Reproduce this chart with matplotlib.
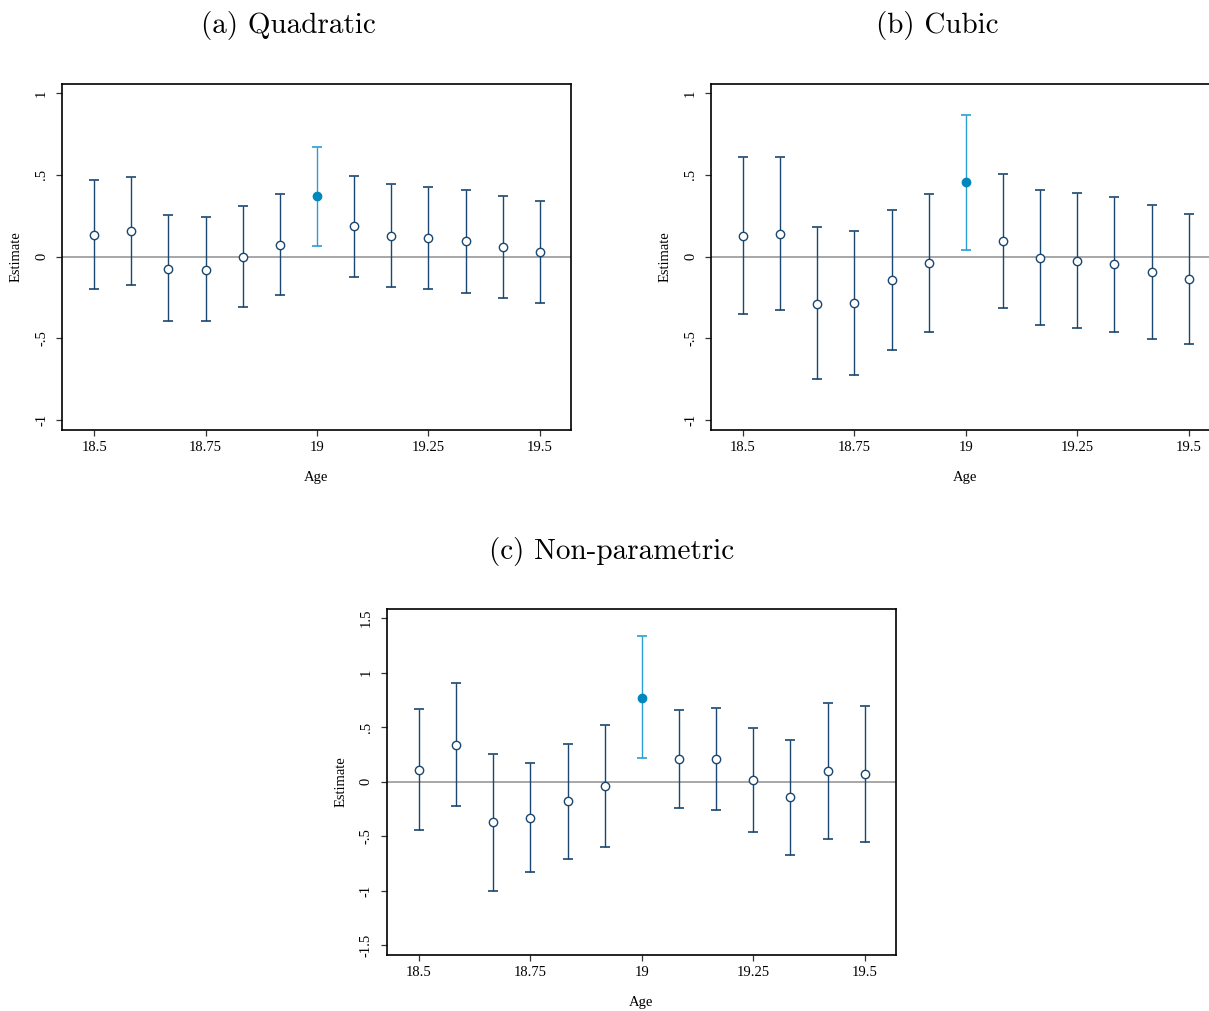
import matplotlib
matplotlib.use("Agg")
import matplotlib.pyplot as plt
import numpy as np

# age bins, 18.5 to 19.5 in monthly steps
ages = [18.5 + k / 12 for k in range(13)]
cutoff_age = 19.0

quad_est = [0.132, 0.157, -0.073, -0.079, 0.000, 0.073, 0.368, 0.185, 0.128, 0.114, 0.093, 0.057, 0.026]
quad_hi = [0.470, 0.486, 0.252, 0.240, 0.309, 0.380, 0.673, 0.490, 0.443, 0.425, 0.409, 0.370, 0.337]
quad_lo = [-0.199, -0.173, -0.394, -0.396, -0.309, -0.234, 0.065, -0.122, -0.187, -0.199, -0.220, -0.254, -0.283]

cubic_est = [0.126, 0.140, -0.287, -0.285, -0.144, -0.039, 0.453, 0.093, -0.008, -0.026, -0.047, -0.096, -0.138]
cubic_hi = [0.608, 0.610, 0.179, 0.159, 0.283, 0.384, 0.868, 0.506, 0.407, 0.388, 0.366, 0.313, 0.260]
cubic_lo = [-0.354, -0.329, -0.748, -0.726, -0.571, -0.461, 0.043, -0.315, -0.419, -0.435, -0.459, -0.502, -0.537]

np_est = [0.110, 0.339, -0.373, -0.330, -0.180, -0.040, 0.771, 0.205, 0.205, 0.018, -0.144, 0.098, 0.067]
np_hi = [0.667, 0.902, 0.257, 0.174, 0.346, 0.517, 1.333, 0.654, 0.676, 0.494, 0.385, 0.719, 0.691]
np_lo = [-0.440, -0.223, -1.000, -0.832, -0.706, -0.596, 0.214, -0.242, -0.263, -0.459, -0.673, -0.526, -0.557]

x_ticks = [18.5, 18.75, 19, 19.25, 19.5]
x_ticklabels = ["18.5", "18.75", "19", "19.25", "19.5"]
y_ticks_small = [-1, -0.5, 0, 0.5, 1]
y_ticklabels_small = ["-1", "-.5", "0", ".5", "1"]
y_ticks_large = [-1.5, -1, -0.5, 0, 0.5, 1, 1.5]
y_ticklabels_large = ["-1.5", "-1", "-.5", "0", ".5", "1", "1.5"]

NAVY = "#1a476f"
BAR_HI = "#2aa0d2"
DOT_HI = "#0088bd"
SERIF = "Liberation Serif"

fig = plt.figure(figsize=(12.09, 10.11), dpi=100)


def draw_panel(ax, est, lo, hi, yticks, yticklabels, ylim):
    ax.axhline(0, color="#8f8f8f", lw=1.1, zorder=1)
    for x, e, l, h in zip(ages, est, lo, hi):
        hl = abs(x - cutoff_age) < 1e-9
        ax.errorbar(
            [x], [e], yerr=[[e - l], [h - e]],
            fmt="none", ecolor=BAR_HI if hl else NAVY,
            elinewidth=1.0, capsize=3.8, capthick=1.2, zorder=2,
        )
        if hl:
            ax.plot(x, e, "o", ms=6, color=DOT_HI, mec=DOT_HI, zorder=3)
        else:
            ax.plot(x, e, "o", ms=6, mfc="white", mec=NAVY, mew=1.0, zorder=3)
    ax.set_xlim(18.428, 19.57)
    ax.set_ylim(*ylim)
    ax.set_xticks(x_ticks)
    ax.set_xticklabels(x_ticklabels, fontfamily=SERIF, fontsize=10.5)
    ax.set_yticks(yticks)
    ax.set_yticklabels(yticklabels, fontfamily=SERIF, fontsize=10.5,
                       rotation=90, va="center")
    ax.tick_params(direction="out", length=4, width=0.9, color="#333333", pad=4)
    ax.tick_params(axis="y", pad=6)
    ax.set_xlabel("Age", fontfamily=SERIF, fontsize=10.5, labelpad=12)
    ax.set_ylabel("Estimate", fontfamily=SERIF, fontsize=10.5, labelpad=9)
    for spine in ax.spines.values():
        spine.set_linewidth(1.2)
        spine.set_color("black")


ax_a = fig.add_axes((0.0513, 0.5747, 0.421, 0.3422))
draw_panel(ax_a, quad_est, quad_lo, quad_hi, y_ticks_small, y_ticklabels_small, (-1.06, 1.055))

ax_b = fig.add_axes((0.588, 0.5747, 0.421, 0.3422))
draw_panel(ax_b, cubic_est, cubic_lo, cubic_hi, y_ticks_small, y_ticklabels_small, (-1.06, 1.055))

ax_c = fig.add_axes((0.320, 0.0554, 0.421, 0.3422))
draw_panel(ax_c, np_est, np_lo, np_hi, y_ticks_large, y_ticklabels_large, (-1.59, 1.583))

title_kw = dict(fontfamily="cmr10", fontsize=21, ha="center", va="center")
fig.text(288 / 1209, 1 - 26 / 1011, "(a) Quadratic", **title_kw)
fig.text(937 / 1209, 1 - 26 / 1011, "(b) Cubic", **title_kw)
fig.text(612 / 1209, 1 - 552 / 1011, "(c) Non-parametric", **title_kw)

fig.savefig("out.png", dpi=100)
